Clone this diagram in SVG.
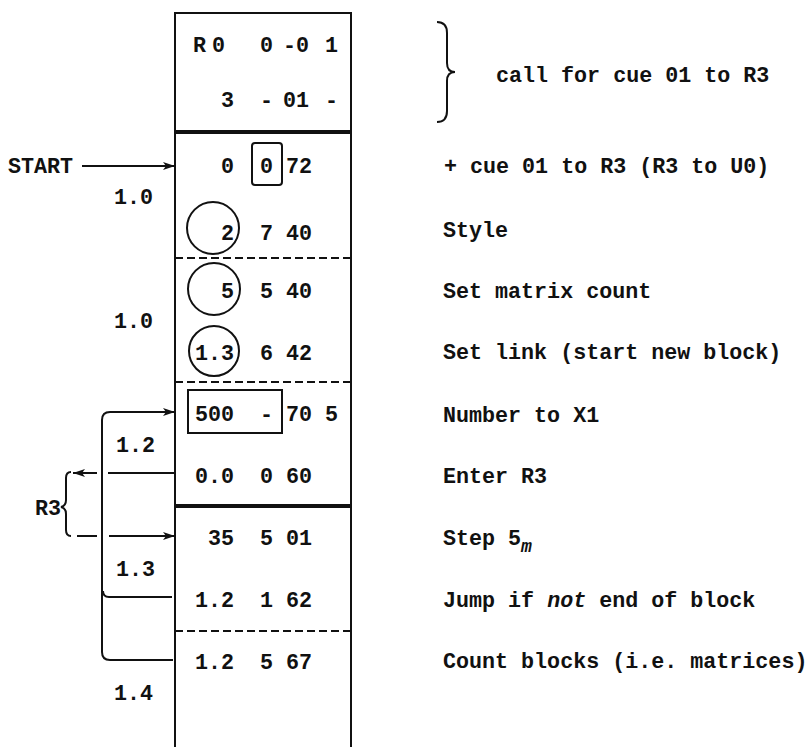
<svg xmlns="http://www.w3.org/2000/svg" width="812" height="747" viewBox="0 0 812 747">
<defs>
<style>
text{font-family:"Liberation Mono","Courier New",monospace;font-weight:bold;font-size:21.7px;fill:#111;white-space:pre}
.ln{stroke:#111;stroke-width:2;fill:none}
.thick{stroke:#111;stroke-width:4;fill:none}
.dash{stroke:#111;stroke-width:2;fill:none;stroke-dasharray:8 4}
</style>
<marker id="ah" viewBox="0 0 12 8" refX="12" refY="4" markerWidth="12" markerHeight="8" markerUnits="userSpaceOnUse" orient="auto">
<path d="M0,0 L12,4 L0,8 L3,4 Z" fill="#111"/>
</marker>
</defs>
<rect width="812" height="747" fill="#fff"/>

<g id="register-column">
<path class="ln" d="M175,747 V13 H351 V747"/>
<line class="thick" x1="175" y1="132" x2="351" y2="132"/>
<line class="dash" x1="175" y1="258" x2="351" y2="258"/>
<line class="dash" x1="175" y1="382" x2="351" y2="382"/>
<line class="thick" x1="175" y1="506" x2="351" y2="506"/>
<line class="dash" x1="175" y1="631" x2="351" y2="631"/>
</g>

<g id="row-r00">
<text y="52"><tspan x="193">R</tspan><tspan x="212">0</tspan><tspan x="260">0</tspan><tspan x="283">-0</tspan><tspan x="325">1</tspan></text>
</g>
<g id="row-3-01">
<text y="107"><tspan x="221">3</tspan><tspan x="260">-</tspan><tspan x="283">01</tspan><tspan x="325">-</tspan></text>
</g>
<g id="row-0-0-72">
<text y="173"><tspan x="221">0</tspan><tspan x="260">0</tspan><tspan x="286">72</tspan></text>
<rect class="ln" x="252" y="143" width="30" height="42" rx="3"/>
</g>
<g id="row-2-7-40">
<circle class="ln" cx="213" cy="228" r="26"/>
<text y="240"><tspan x="221">2</tspan><tspan x="260">7</tspan><tspan x="286">40</tspan></text>
</g>
<g id="row-5-5-40">
<circle class="ln" cx="214" cy="289" r="26"/>
<text y="298"><tspan x="221">5</tspan><tspan x="260">5</tspan><tspan x="286">40</tspan></text>
</g>
<g id="row-13-6-42">
<circle class="ln" cx="214" cy="351" r="25"/>
<text y="360"><tspan x="195">1.3</tspan><tspan x="260">6</tspan><tspan x="286">42</tspan></text>
</g>
<g id="row-500-70-5">
<rect class="ln" x="188" y="390" width="94" height="43"/>
<text y="421"><tspan x="195">500</tspan><tspan x="260">-</tspan><tspan x="286">70</tspan><tspan x="325">5</tspan></text>
</g>
<g id="row-00-0-60">
<text y="483"><tspan x="195">0.0</tspan><tspan x="260">0</tspan><tspan x="286">60</tspan></text>
</g>
<g id="row-35-5-01">
<text y="545"><tspan x="208">35</tspan><tspan x="260">5</tspan><tspan x="286">01</tspan></text>
</g>
<g id="row-12-1-62">
<text y="607"><tspan x="195">1.2</tspan><tspan x="260">1</tspan><tspan x="286">62</tspan></text>
</g>
<g id="row-12-5-67">
<text y="669"><tspan x="195">1.2</tspan><tspan x="260">5</tspan><tspan x="286">67</tspan></text>
</g>

<g id="left-labels">
<text x="8" y="173">START</text>
<text x="114" y="204">1.0</text>
<text x="114" y="328">1.0</text>
<text x="116" y="452">1.2</text>
<text x="116" y="576">1.3</text>
<text x="114" y="700">1.4</text>
<text x="35" y="515">R3</text>
<path class="ln" d="M71,472 Q66,472 66,478 V500 Q66,506 61,507 Q66,508 66,514 V530 Q66,536 71,536"/>
</g>

<g id="right-notes">
<path class="ln" d="M437,22 Q447,22 447,33 V63 Q447,72 455,72 Q447,72 447,81 V111 Q447,122 437,122"/>
<text x="496" y="82">call for cue 01 to R3</text>
<text x="444" y="173">+ cue 01 to R3 (R3 to U0)</text>
<text x="443" y="237">Style</text>
<text x="443" y="298">Set matrix count</text>
<text x="443" y="359">Set link (start new block)</text>
<text x="443" y="422">Number to X1</text>
<text x="443" y="483">Enter R3</text>
<text x="443" y="545">Step 5<tspan font-style="italic" font-size="18" dy="7">m</tspan></text>
<text x="443" y="607">Jump if <tspan font-style="italic">not</tspan> end of block</text>
<text x="443" y="668">Count blocks (i.e. matrices)</text>
</g>

<g id="connectors">
<line class="ln" x1="82" y1="166" x2="175" y2="166" marker-end="url(#ah)"/>
<path class="ln" d="M173,660 H110 Q102,660 102,652 V420 Q102,412 110,412 H175" marker-end="url(#ah)"/>
<path class="ln" d="M172,597 H109 Q103,597 103,591"/>
<line class="ln" x1="108" y1="473" x2="174" y2="473"/>
<line class="ln" x1="97" y1="473" x2="73" y2="473" marker-end="url(#ah)"/>
<line class="ln" x1="77" y1="536" x2="97" y2="536"/>
<line class="ln" x1="109" y1="536" x2="175" y2="536" marker-end="url(#ah)"/>
</g>
</svg>
